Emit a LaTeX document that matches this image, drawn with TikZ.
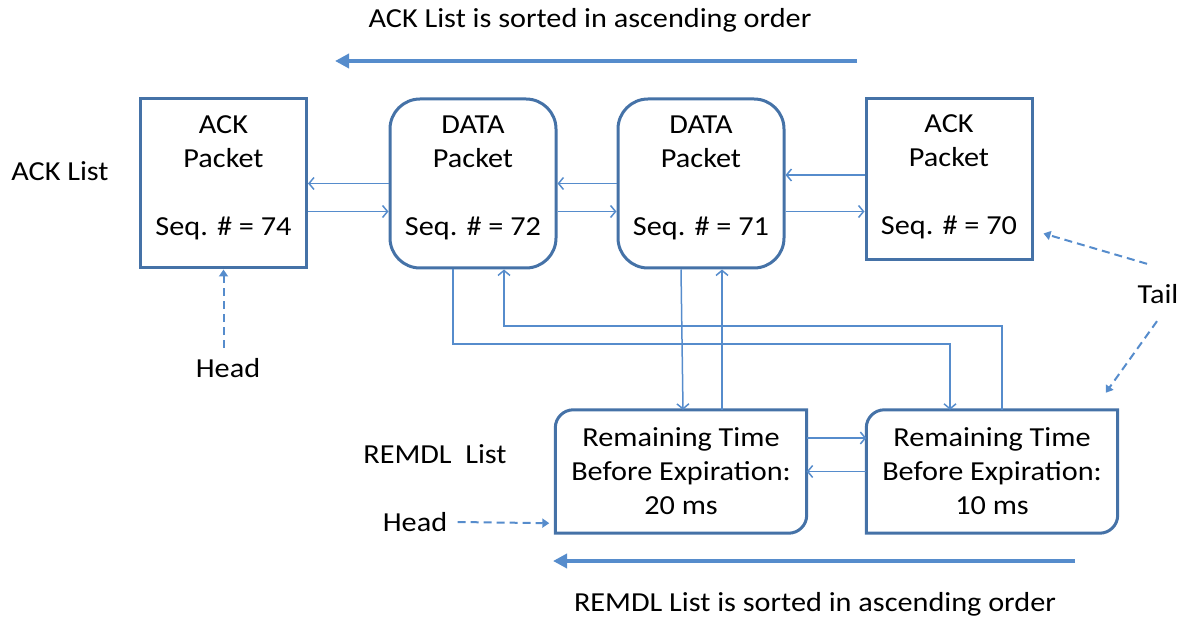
\documentclass[tikz,border=0pt]{standalone}
\usepackage{fontspec}
\setmainfont{Carlito}[FakeStretch=1.1]
\usetikzlibrary{arrows.meta}

\definecolor{boxblue}{RGB}{69,114,167}
\definecolor{linkblue}{RGB}{86,140,204}

% frame with two round corners (top left, bottom right)
\newcommand{\diagframe}[1]{%
  \draw[boxline] (#1.south west) -- ([yshift=-18pt]#1.north west)
    arc[start angle=180, end angle=90, radius=18pt] -- (#1.north east)
    -- ([yshift=18pt]#1.south east)
    arc[start angle=0, end angle=-90, radius=18pt] -- cycle;}

\begin{document}
\begin{tikzpicture}[x=1pt, y=1pt,
    font=\fontsize{27.5}{34}\selectfont,
    boxline/.style={draw=boxblue, line width=3pt},
    packet/.style={boxline, align=center, minimum width=166pt, minimum height=169pt, inner sep=0pt, text depth=15pt},
    datapkt/.style={packet, rounded corners=30pt},
    remdl/.style={align=center, minimum width=251pt, minimum height=123pt, inner sep=0pt},
    link/.style={linkblue, line width=1.5pt, -{Straight Barb[length=5pt,width=12pt]}},
    ptr/.style={linkblue, line width=2pt, dash pattern=on 8pt off 5pt, -{Triangle[length=7pt,width=9pt]}},
    order/.style={linkblue, line width=4pt, -{Triangle[length=14pt,width=14pt]}}]

    \useasboundingbox (0,0) rectangle (1183,619);

    % Ordine della lista ACK
    \node (acktitle) at (590,599) {ACK List is sorted in ascending order};
    \coordinate (ackfrom) at (857,558);
    \coordinate (ackto) at (335,558);
    \draw[order] (ackfrom) -- (ackto);

    % Lista ACK
    \node (acklist) at (60,448) {ACK List};
    \node[packet] (a74) at (223.5,435.5) {ACK\\Packet\\[34pt]Seq. \# = 74};
    \node[datapkt] (d72) at (473,435.5) {DATA\\Packet\\[34pt]Seq. \# = 72};
    \node[datapkt] (d71) at (701,435.5) {DATA\\Packet\\[34pt]Seq. \# = 71};
    \node[packet, minimum height=161pt, text depth=9pt] (a70) at (949,439.5) {ACK\\Packet\\[34pt]Seq. \# = 70};

    % Lista REMDL
    \node (remdllist) at (435,165) {REMDL\ \ List};
    \node[remdl] (r20) at (681,147.5) {Remaining Time\\Before Expiration:\\20 ms};
    \node[remdl] (r10) at (992,147.5) {Remaining Time\\Before Expiration:\\10 ms};
    \diagframe{r20}
    \diagframe{r10}

    % Ordine della lista REMDL
    \node (remdltitle) at (815,15) {REMDL List is sorted in ascending order};
    \coordinate (remfrom) at (1075,58);
    \coordinate (remto) at (553,58);
    \draw[order] (remfrom) -- (remto);

    % Head e Tail
    \node[outer sep=7pt] (head1) at (228,251) {Head};
    \node (tail) at (1158,325) {Tail};
    \node (head2) at (415,97) {Head};

    % Collegamenti orizzontali
    \path ([yshift=-28pt]a74.east) coordinate (a74r)
          ([yshift=-28pt]d72.east) coordinate (d72r)
          ([yshift=-28pt]d71.east) coordinate (d71r)
          ([yshift=4.5pt]a70.west) coordinate (a70l)
          ([yshift=33.5pt]r20.east) coordinate (r20r);
    \draw[link] (d72.west) -- (d72.west -| a74.east);
    \draw[link] (a74r) -- (a74r -| d72.west);
    \draw[link] (d71.west) -- (d71.west -| d72.east);
    \draw[link] (d72r) -- (d72r -| d71.west);
    \draw[link] (a70l) -- (a70l -| d71.east);
    \draw[link] (d71r) -- (d71r -| a70.west);
    \draw[link] (r20r) -- (r20r -| r10.west);
    \draw[link] (r10.west) -- (r20.east);

    % Collegamenti verticali tra le due liste
    \coordinate (lowrun) at (0,275);
    \coordinate (highrun) at (0,293);
    \path ([xshift=-20pt]d72.south) coordinate (d72d)
          ([xshift=31pt]d72.south) coordinate (d72u)
          ([xshift=-20pt]d71.south) coordinate (d71d)
          ([xshift=21pt]d71.south) coordinate (d71u)
          ([xshift=2pt]r20.north) coordinate (r20d)
          ([xshift=41pt]r20.north) coordinate (r20u)
          ([xshift=-42pt]r10.north) coordinate (r10d)
          ([xshift=10pt]r10.north) coordinate (r10u);
    \draw[link] (d72d) -- (d72d |- lowrun) -| (r10d);
    \draw[link] (r10u) |- (highrun -| d72u) -- (d72u);
    \draw[link] (d71d) -- (r20d);
    \draw[link] (r20u) -- (d71u);

    % Puntatori tratteggiati
    \path ([shift={(-11pt,17pt)}]tail.north) coordinate (tailup)
          ([shift={(10pt,28pt)}]a70.south east) coordinate (a70tip)
          ([shift={(-1pt,-14pt)}]tail.south) coordinate (taildown)
          ([shift={(-12pt,17pt)}]r10.north east) coordinate (r10tip)
          ([xshift=7pt]head2.east) coordinate (head2r)
          ([shift={(-6pt,10pt)}]r20.south west) coordinate (r20tip);
    \draw[ptr] (head1.north -| a74.south) -- (a74.south);
    \draw[ptr] (tailup) -- (a70tip);
    \draw[ptr] (taildown) -- (r10tip);
    \draw[ptr] (head2r) -- (r20tip);

\end{tikzpicture}
\end{document}
